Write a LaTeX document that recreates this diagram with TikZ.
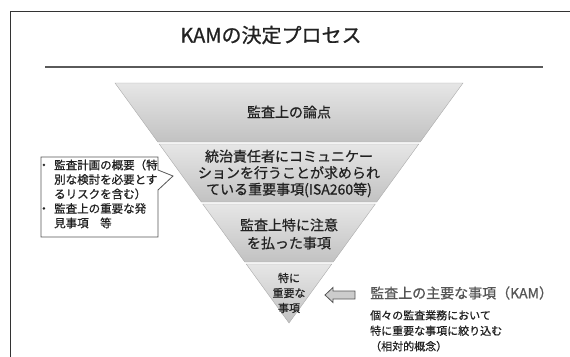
\documentclass[tikz,border=0pt]{standalone}
\usepackage{fontspec}
\setmainfont{Noto Sans CJK JP}[UprightFeatures={FakeBold=0.8}]
\definecolor{bandtop}{HTML}{E6E6E6}
\definecolor{bandbot}{HTML}{C2C2C2}
\definecolor{bandedge}{HTML}{ABABAB}
\definecolor{textdark}{HTML}{222222}
\definecolor{kamgray}{HTML}{555555}
\definecolor{rulegray}{HTML}{5A5A5A}
\definecolor{framegray}{HTML}{333333}
\begin{document}
\begin{tikzpicture}[x=1pt,y=-1pt,
  band/.style={top color=bandtop, bottom color=bandbot, draw=bandedge, line width=0.4pt},
  bandtext/.style={text=textdark, align=center, inner sep=0pt},
  calloutbox/.style={draw=kamgray, line width=0.8pt, fill=white},
  hollowarrow/.style={draw=kamgray, line width=0.8pt, fill=black!20, line join=miter}]
\useasboundingbox (0,0) rectangle (570,356);
% outer frame
\draw[framegray, line width=1.3pt] (10.5,360) -- (10.5,11.5) -- (575,11.5);
% title
\node[text=textdark, inner sep=0pt, font=\fontsize{20}{24}\selectfont] (title) at (271,35) {KAMの決定プロセス};
% rule
\draw[rulegray, line width=2.6pt] (45,67) -- (543,67);
% bands
\path[band] (115,83) -- (463,83) -- (420.2,142) -- (157.8,142) -- cycle;
\path[band] (159.2,144) -- (418.8,144) -- (376.7,202) -- (201.3,202) -- cycle;
\path[band] (202.7,204) -- (375.3,204) -- (333.2,262) -- (244.8,262) -- cycle;
\path[band] (246.2,264) -- (331.8,264) -- (289,323) -- cycle;
% band texts
\node[bandtext, font=\fontsize{14}{17}\selectfont] (b1) at (289,112) {監査上の論点};
\node[bandtext, font=\fontsize{14}{16.5}\selectfont] (b2) at (289,173.5) {統治責任者にコミュニケー\\ションを行うことが求められ\\ている重要事項(ISA260等)};
\node[bandtext, font=\fontsize{14}{18}\selectfont] (b3) at (289,234) {監査上特に注意\\を払った事項};
\node[bandtext, font=\fontsize{11}{15}\selectfont] (b4) at (289,293) {特に\\重要な\\事項};
% callout
\path[calloutbox] (41,157) -- (158,157) -- (158,170) -- (173,176) -- (158,190) -- (158,237) -- (41,237) -- cycle;
\node[text=textdark, inner sep=0pt, anchor=north west, font=\fontsize{11.5}{14.5}\selectfont] (ctext) at (38,159)
  {\begin{tabular}{@{}l@{\hspace{4.5pt}}l@{}}
   ・& 監査計画の概要（特\\
     & 別な検討を必要とす\\
     & るリスクを含む）\\
   ・& 監査上の重要な発\\
     & 見事項　等
   \end{tabular}};
% KAM label and arrow
\node[text=kamgray, inner sep=0pt, anchor=west, font=\fontsize{14}{17}\selectfont] (kam) at (370,293) {監査上の主要な事項（KAM）};
\path[hollowarrow] (325,295) -- (333,287.5) -- (333,291) -- (355,291) -- (355,299) -- (333,299) -- (333,302.5) -- cycle;
\node[text=textdark, inner sep=0pt, anchor=north west, align=left, font=\fontsize{11}{15.5}\selectfont] (note) at (370,310)
  {個々の監査業務において\\特に重要な事項に絞り込む\\（相対的概念）};
\end{tikzpicture}
\end{document}
